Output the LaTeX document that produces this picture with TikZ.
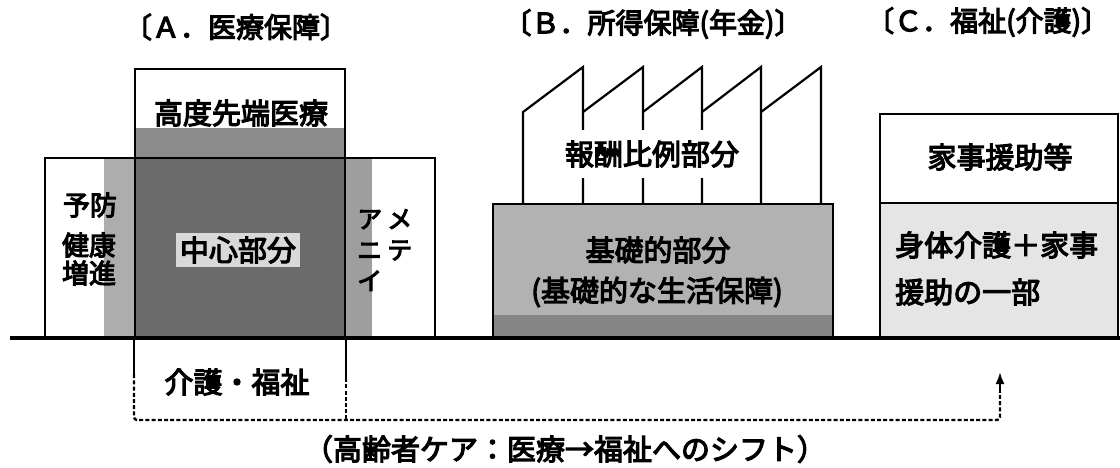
\documentclass[tikz,border=0pt]{standalone}
\usepackage{fontspec}
\newfontfamily\jpfont[FakeBold=4]{Noto Sans CJK JP}
\usetikzlibrary{arrows.meta}
\begin{document}
\begin{tikzpicture}[x=1pt,y=-1pt,
  outline/.style={draw=black,line width=2.2pt,inner sep=0pt,anchor=north west},
  ground/.style={draw=black,line width=3.2pt},
  lbl/.style={font=\jpfont\fontsize{29}{34}\selectfont,inner sep=1pt},
  sml/.style={font=\jpfont\fontsize{27}{28}\selectfont,inner sep=0pt},
  ttl/.style={font=\jpfont\fontsize{28}{32}\selectfont,inner sep=0pt},
  leg/.style={draw=black,line width=2.2pt},
  shiftline/.style={draw=black,line width=2.4pt,dash pattern=on 4pt off 2.2pt},
]
\useasboundingbox (0,0) rectangle (1120,468);

% ---------- shading ----------
\fill[black!32] (104,157) rectangle (134,338);
\fill[black!38] (344,157) rectangle (372,338);
\fill[black!45] (134,128) rectangle (344,157);
\fill[black!58] (134,157) rectangle (344,338);
\fill[black!30] (492,203) rectangle (832,338);
\fill[black!48] (492,315) rectangle (832,338);
\fill[black!10] (879,202) rectangle (1117,338);

% ---------- titles ----------
\node[ttl] (tA) at (236,27) {〔Ａ．医療保障〕};
\node[ttl] (tB) at (653,24) {〔Ｂ．所得保障(年金)〕};
\node[ttl,anchor=west] (tC) at (866,22) {〔Ｃ．福祉(介護)〕};

% ---------- A: medical ----------
\node[outline,minimum width=390pt,minimum height=181pt] (wide) at (44,157) {};
\node[outline,minimum width=210pt,minimum height=270pt] (core) at (134,68) {};
\node[lbl] (hightech) at (241,113) {高度先端医療};
\node[lbl,fill=black!15,inner sep=4pt] (center) at (238,250) {中心部分};
\node[sml] (yobo) at (90,205) {予防};
\node[sml] (kenko) at (89,245) {健康};
\node[sml] (zoshin) at (89,273) {増進};
\node[font=\jpfont\fontsize{25}{31}\selectfont,inner sep=0pt,align=left,anchor=north west] (amenity) at (357,209) {ア\hspace{5pt}メ\\ニ\hspace{5pt}テ\\イ};
\node[lbl] (kaigo) at (237,382) {介護・福祉};

% ---------- B: pension ----------
\node[outline,minimum width=340pt,minimum height=135pt] (base) at (492,203) {};
\draw[leg,line join=miter] (523,203) -- (523,112) -- (583,67) -- (583,203);
\foreach \a/\b in {583/643,643/702,702/761,761/821}
  \draw[leg,line join=miter] (\a,112) -- (\b,67) -- (\b,203);
\node[lbl,fill=white,inner xsep=8pt,inner ysep=11pt] (hirei) at (652,154) {報酬比例部分};
\node[lbl] (kiso1) at (658,250) {基礎的部分};
\node[lbl] (kiso2) at (657,292) {(基礎的な生活保障)};

% ---------- C: welfare ----------
\node[outline,minimum width=238pt,minimum height=89pt] (cup) at (879,113) {};
\node[outline,minimum width=238pt,minimum height=136pt] (clow) at (879,202) {};
\node[lbl] (kaji) at (1000,157) {家事援助等};
\node[lbl,anchor=west] (shintai) at (894,245) {身体介護＋家事};
\node[lbl,anchor=west] (enjo) at (894,292) {援助の一部};

% ---------- ground line ----------
\coordinate (gl) at (10,338);
\coordinate (gr) at (1120,338);
\draw[ground] (gl) -- (gr);

% ---------- shift connector ----------
\coordinate (tip) at (1000,372);
\coordinate (bl) at (134,420);
\coordinate (rise) at (1000,392);
\draw[leg] (core.south west) -- ++(0,34) coordinate (l1);
\draw[leg] (core.south east) -- ++(0,38) coordinate (r1);
\draw[shiftline] (r1) -- (r1 |- bl);
\draw[shiftline,rounded corners=3pt] (l1) -- (bl) -| (rise);
\draw[leg,-{Latex[length=12pt,width=9pt]}] (rise) -- (tip);

\node[lbl] (caption) at (565,449) {（高齢者ケア：医療→福祉へのシフト）};
\end{tikzpicture}
\end{document}
